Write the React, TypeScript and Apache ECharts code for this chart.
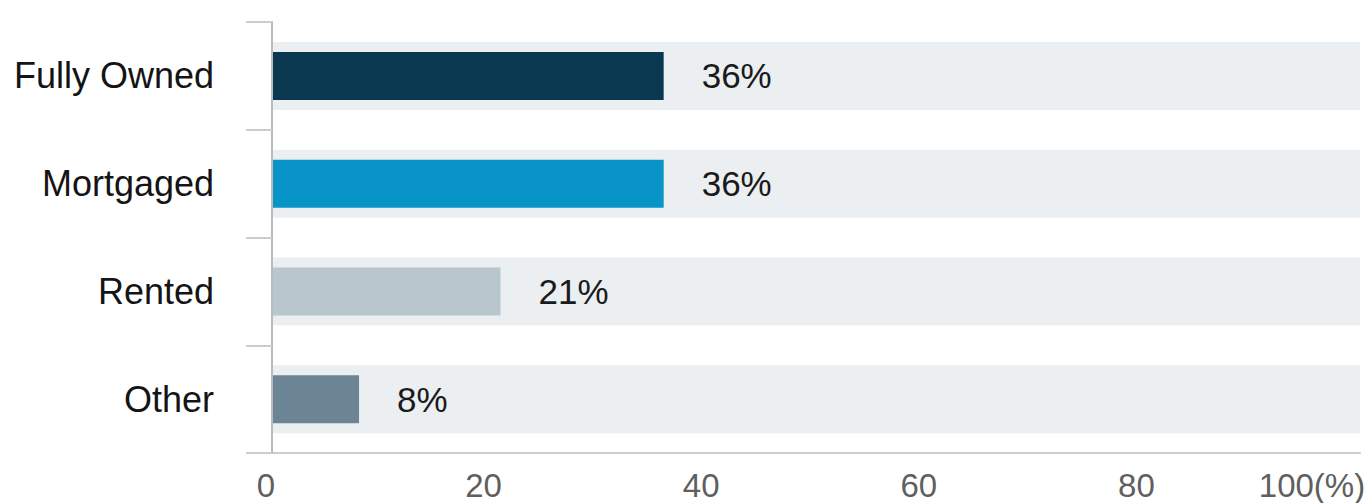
import React, { useEffect, useRef } from "react";
import * as echarts from "echarts";

const categories = ["Fully Owned", "Mortgaged", "Rented", "Other"];
const values = [36, 36, 21, 8];
const barColors = ["#0a3850", "#0894c6", "#b8c7cd", "#6c8594"];
const backgroundValues = [100, 100, 100, 100];
const xTicks = [0, 20, 40, 60, 80, 100];

export default function App() {
  const ref = useRef<HTMLDivElement>(null);
  useEffect(() => {
    document.body.style.margin = "0";
    if (!ref.current) return;
    const chart = echarts.init(ref.current, undefined, { renderer: "svg" });
    const font = "Liberation Sans, Arial, sans-serif";
    chart.setOption({
      animation: false,
      backgroundColor: "#ffffff",
      grid: { left: 272, right: 8, top: 22, bottom: 50, containLabel: false, outerBoundsMode: "none" },
      xAxis: {
        type: "value",
        min: 0,
        max: 100,
        interval: 20,
        axisLine: { show: true, lineStyle: { color: "#cccccc", width: 2 } },
        axisTick: { show: false },
        splitLine: { show: false },
        axisLabel: {
          margin: 16,
          fontSize: 33,
          lineHeight: 33,
          fontFamily: font,
          color: "#5f5f5f",
          padding: [0, 12, 0, 0],
          formatter: (v: number) =>
            v === xTicks[xTicks.length - 1] ? "{m|" + v + "(%)}" : String(v),
          rich: {
            m: { fontSize: 33, lineHeight: 33, fontFamily: font, color: "#5f5f5f", padding: [0, 84, 0, 0] },
          },
        },
      },
      yAxis: [
        {
          type: "category",
          data: categories,
          inverse: true,
          axisLine: { show: true, lineStyle: { color: "#bbbbbb", width: 2 } },
          axisTick: { show: true, length: 26, lineStyle: { color: "#cccccc", width: 2 } },
          axisLabel: { margin: 58, fontSize: 36, fontFamily: font, color: "#141414" },
          z: 5,
        },
        {
          type: "category",
          data: categories,
          inverse: true,
          show: false,
        },
      ],
      series: [
        {
          type: "bar",
          yAxisIndex: 1,
          data: backgroundValues,
          barWidth: 68,
          silent: true,
          itemStyle: { color: "#ebeff1" },
          z: 1,
        },
        {
          type: "bar",
          yAxisIndex: 0,
          barWidth: 48,
          data: values.map((v, i) => ({ value: v, itemStyle: { color: barColors[i] } })),
          label: {
            show: true,
            position: "right",
            distance: 38,
            formatter: "{c}%",
            fontSize: 35,
            fontFamily: font,
            color: "#1a1a1a",
          },
          z: 3,
        },
      ],
    });
    return () => chart.dispose();
  }, []);
  return <div ref={ref} style={{ width: 1368, height: 503 }} />;
}
